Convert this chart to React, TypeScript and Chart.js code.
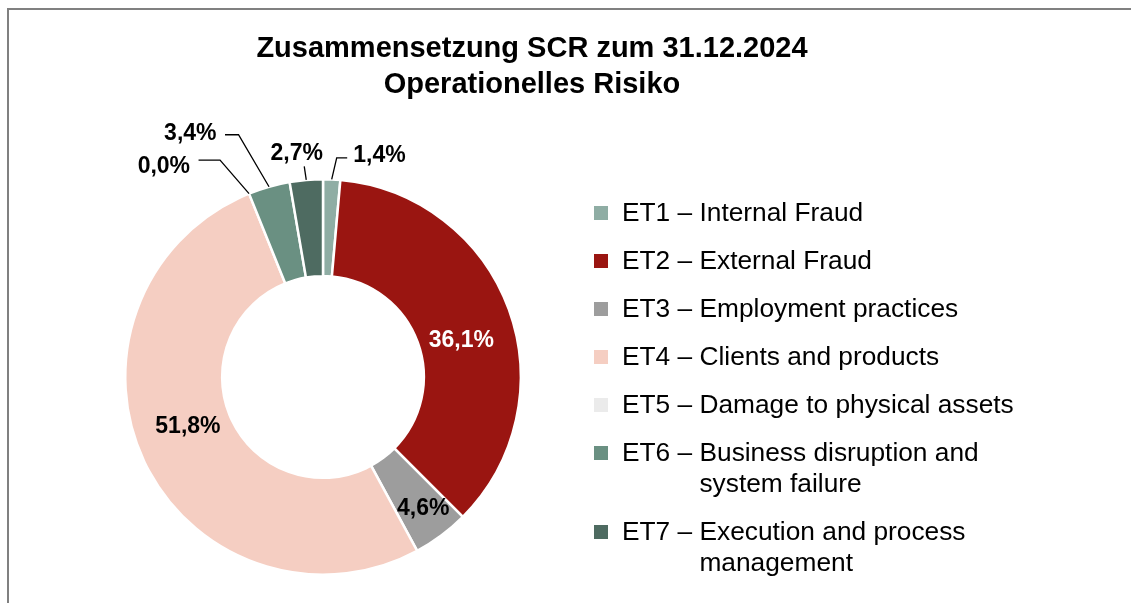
import React, { useEffect, useRef } from "react";
import { Chart, registerables } from "chart.js";

Chart.register(...registerables);

// ---------------- data ----------------
const TITLE_LINES = ["Zusammensetzung SCR zum 31.12.2024", "Operationelles Risiko"];

const CATEGORIES = [
  "ET1 – Internal Fraud",
  "ET2 – External Fraud",
  "ET3 – Employment practices",
  "ET4 – Clients and products",
  "ET5 – Damage to physical assets",
  "ET6 – Business disruption and\nsystem failure",
  "ET7 – Execution and process\nmanagement",
];

const VALUES = [1.4, 36.1, 4.6, 51.8, 0.0, 3.4, 2.7];

const VALUE_LABELS = ["1,4%", "36,1%", "4,6%", "51,8%", "0,0%", "3,4%", "2,7%"];

// ---------------- styles ----------------
const COLORS = ["#8fada4", "#9a1511", "#9d9d9d", "#f5cec2", "#ebebeb", "#6a9082", "#4e6b61"];
const LABEL_COLORS = ["#000", "#fff", "#000", "#000", "#000", "#000", "#000"];
const FONT = '"Liberation Sans", Arial, Helvetica, sans-serif';
const LABEL_FONT_SIZE = 23;

type Inside = { mode: "inside"; dx: number; dy: number };
type Outside = {
  mode: "outside";
  elbow: [number, number];
  end: [number, number] | null;
  text: [number, number];
  align: CanvasTextAlign;
};
// label placement relative to each slice (inside: from mid-ring point; outside: from outer mid point)
const LABEL_LAYOUT: (Inside | Outside)[] = [
  { mode: "outside", elbow: [5, -21.5], end: [15.5, -21.5], text: [21.5, -25.5], align: "left" },
  { mode: "inside", dx: -2, dy: 13 },
  { mode: "inside", dx: 11, dy: 10 },
  { mode: "inside", dx: 0, dy: -16 },
  { mode: "outside", elbow: [-29, -33.5], end: [-50.5, -33.5], text: [-59, -28.5], align: "right" },
  { mode: "outside", elbow: [-30.5, -52], end: [-44, -52], text: [-52.5, -55], align: "right" },
  { mode: "outside", elbow: [-2, -13.5], end: null, text: [-9.5, -28.5], align: "center" },
];

const labelPlugin = {
  id: "sliceLabels",
  afterDatasetsDraw(chart: any) {
    const ctx: CanvasRenderingContext2D = chart.ctx;
    const meta = chart.getDatasetMeta(0);
    meta.data.forEach((arc: any, i: number) => {
      const p = arc.getProps(["x", "y", "startAngle", "endAngle", "innerRadius", "outerRadius"], true);
      const mid = (p.startAngle + p.endAngle) / 2;
      const spec = LABEL_LAYOUT[i];
      const text = VALUE_LABELS[i];
      ctx.save();
      ctx.font = `bold ${LABEL_FONT_SIZE}px ${FONT}`;
      ctx.fillStyle = LABEL_COLORS[i];
      ctx.textBaseline = "alphabetic";
      const capHalf = LABEL_FONT_SIZE * 0.358;
      if (spec.mode === "inside") {
        const r = (p.innerRadius + p.outerRadius) / 2;
        const cx = p.x + Math.cos(mid) * r + spec.dx;
        const cy = p.y + Math.sin(mid) * r + spec.dy;
        ctx.textAlign = "center";
        ctx.fillText(text, cx, cy + capHalf);
      } else {
        const sx = p.x + Math.cos(mid) * p.outerRadius;
        const sy = p.y + Math.sin(mid) * p.outerRadius;
        ctx.strokeStyle = "#000";
        ctx.lineWidth = 1.3;
        ctx.beginPath();
        ctx.moveTo(sx, sy);
        ctx.lineTo(sx + spec.elbow[0], sy + spec.elbow[1]);
        if (spec.end) ctx.lineTo(sx + spec.end[0], sy + spec.end[1]);
        ctx.stroke();
        ctx.textAlign = spec.align;
        ctx.fillText(text, sx + spec.text[0], sy + spec.text[1] + capHalf);
      }
      ctx.restore();
    });
  },
};

function Legend() {
  return (
    <div
      style={{
        position: "fixed",
        left: 594,
        top: 197,
        fontFamily: FONT,
        fontSize: 26.3,
        lineHeight: "31px",
        color: "#000",
      }}
    >
      {CATEGORIES.map((c, i) => {
        const idx = c.indexOf("– ");
        const prefix = c.slice(0, idx + 2);
        const rest = c.slice(idx + 2);
        return (
          <div key={i} style={{ display: "flex", alignItems: "flex-start", marginBottom: 17 }}>
            <div
              style={{
                width: 14,
                height: 14,
                marginTop: 8.5,
                marginRight: 14,
                background: COLORS[i],
                flex: "none",
              }}
            />
            <span style={{ whiteSpace: "pre" }}>{prefix}</span>
            <span style={{ whiteSpace: "pre-line" }}>{rest}</span>
          </div>
        );
      })}
    </div>
  );
}

export default function App() {
  const canvasRef = useRef<HTMLCanvasElement | null>(null);

  useEffect(() => {
    if (!canvasRef.current) return;
    const chart = new Chart(canvasRef.current, {
      type: "doughnut",
      data: {
        labels: CATEGORIES,
        datasets: [
          {
            data: VALUES,
            backgroundColor: COLORS,
            borderColor: "#ffffff",
            borderWidth: 2.5,
          },
        ],
      },
      options: {
        responsive: false,
        animation: false,
        events: [],
        cutout: "51%",
        layout: { padding: { left: 124, top: 178, right: 609, bottom: 27 } },
        plugins: {
          legend: { display: false },
          title: { display: false },
          tooltip: { enabled: false },
        },
      },
      plugins: [labelPlugin],
    });
    return () => chart.destroy();
  }, []);

  return (
    <div>
      <div style={{ position: "fixed", left: 0, top: 0, width: 1131, height: 603, background: "#fff" }}>
        <canvas ref={canvasRef} width={1131} height={603} style={{ display: "block" }} />
      </div>
      <div
        style={{
          position: "fixed",
          left: 7,
          top: 8,
          width: 1200,
          height: 700,
          borderTop: "2px solid #808080",
          borderLeft: "2px solid #808080",
          pointerEvents: "none",
        }}
      />
      <div
        style={{
          position: "fixed",
          left: 0,
          top: 29,
          width: 1064,
          textAlign: "center",
          fontFamily: FONT,
          fontWeight: "bold",
          fontSize: 29,
          lineHeight: "36px",
          color: "#000",
        }}
      >
        {TITLE_LINES.map((t, i) => (
          <div key={i}>{t}</div>
        ))}
      </div>
      <Legend />
    </div>
  );
}
